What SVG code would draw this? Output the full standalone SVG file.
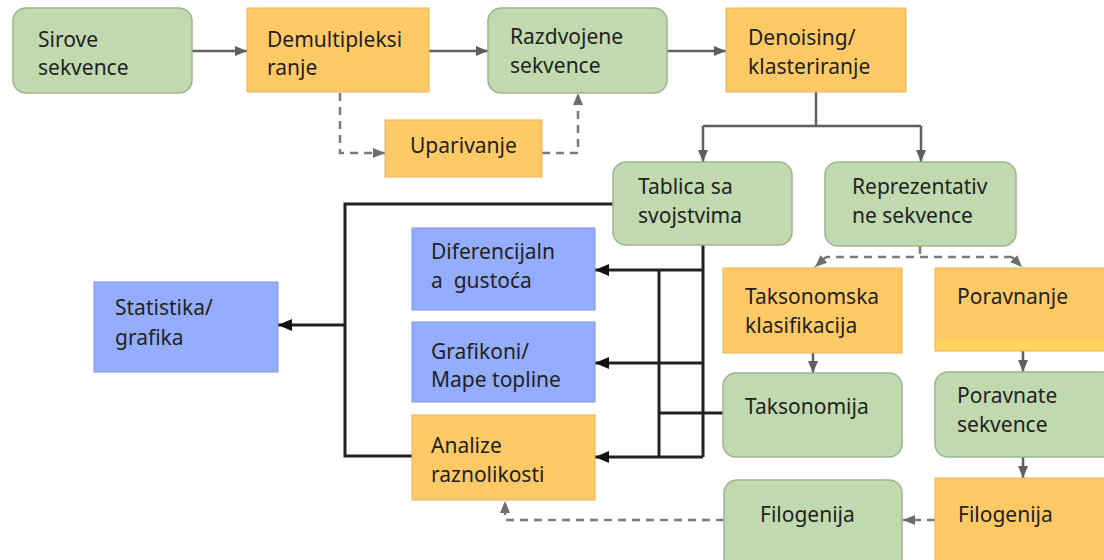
<svg xmlns="http://www.w3.org/2000/svg" width="1104" height="560" viewBox="0 0 1104 560">
<defs>
<style>
.t{font-family:"Noto Sans","Open Sans","Liberation Sans",sans-serif;font-size:21px;fill:#222;white-space:pre}
.g{fill:#c0d9ae;stroke:#9db58c;stroke-width:1.5}
.o{fill:#ffca65;stroke:#e3b45a;stroke-width:1}
.b{fill:#95adff;stroke:#7f96e0;stroke-width:1}
.cg{fill:none;stroke:#5f5f5f;stroke-width:2.5}
.cd{fill:none;stroke:#7a7a7a;stroke-width:2.5;stroke-dasharray:8 6}
.ck{fill:none;stroke:#222;stroke-width:3}
</style>
<marker id="ag" viewBox="0 0 12 10" refX="12" refY="5" markerWidth="12" markerHeight="10" markerUnits="userSpaceOnUse" orient="auto"><path d="M0,0 L12,5 L0,10 z" fill="#5f5f5f"/></marker>
<marker id="ad" viewBox="0 0 12 10" refX="12" refY="5" markerWidth="12" markerHeight="10" markerUnits="userSpaceOnUse" orient="auto"><path d="M0,0 L12,5 L0,10 z" fill="#6e6e6e"/></marker>
<marker id="ak" viewBox="0 0 14 12" refX="14" refY="6" markerWidth="14" markerHeight="12" markerUnits="userSpaceOnUse" orient="auto"><path d="M0,0 L14,6 L0,12 z" fill="#111"/></marker>
</defs>
<rect width="1104" height="560" fill="#fff"/>

<g id="connectors">
<line class="cg" x1="192" y1="51" x2="247" y2="51" marker-end="url(#ag)"/>
<line class="cg" x1="429" y1="51" x2="488" y2="51" marker-end="url(#ag)"/>
<line class="cg" x1="667" y1="51" x2="726" y2="51" marker-end="url(#ag)"/>
<path class="cd" d="M340 93 V153 H385" marker-end="url(#ad)"/>
<path class="cd" d="M542 153 H578 V93" marker-end="url(#ad)"/>
<path class="cg" d="M816 92 V126"/>
<path class="cg" d="M703 126 H921"/>
<line class="cg" x1="703" y1="126" x2="703" y2="162" marker-end="url(#ag)"/>
<line class="cg" x1="921" y1="126" x2="921" y2="162" marker-end="url(#ag)"/>
<path class="cd" d="M920 246 V257"/>
<path class="cd" d="M1012 257 H826"/>
<path class="cd" d="M826 257 L815 267" marker-end="url(#ad)"/>
<path class="cd" d="M1012 257 L1022 267" marker-end="url(#ad)"/>
<line class="cg" x1="813" y1="353" x2="813" y2="373" marker-end="url(#ag)"/>
<line class="cg" x1="1023" y1="351" x2="1023" y2="372" marker-end="url(#ag)"/>
<line class="cg" x1="1023" y1="457" x2="1023" y2="478" marker-end="url(#ag)"/>
<line class="cd" x1="935" y1="520" x2="903" y2="520" marker-end="url(#ad)"/>
<path class="cd" d="M724 520 H505 V501" marker-end="url(#ad)"/>
<path class="ck" d="M613 204 H345 V456 H412"/>
<line class="ck" x1="345" y1="325" x2="278" y2="325" marker-end="url(#ak)"/>
<path class="ck" d="M703 245 V457"/>
<path class="ck" d="M659 270 V457"/>
<path class="ck" d="M723 413 H659"/>
<line class="ck" x1="703" y1="270" x2="595" y2="270" marker-end="url(#ak)"/>
<line class="ck" x1="703" y1="363" x2="595" y2="363" marker-end="url(#ak)"/>
<line class="ck" x1="703" y1="457" x2="595" y2="457" marker-end="url(#ak)"/>
</g>

<g id="sirove"><rect class="g" x="13" y="8" width="179" height="85" rx="13"/><text class="t" x="38" y="47">Sirove</text><text class="t" x="38" y="75">sekvence</text></g>
<g id="demultipleksiranje"><rect class="o" x="247" y="8" width="182" height="84"/><text class="t" x="267" y="47">Demultipleksi</text><text class="t" x="267" y="75">ranje</text></g>
<g id="razdvojene"><rect class="g" x="488" y="8" width="179" height="85" rx="13"/><text class="t" x="510" y="44">Razdvojene</text><text class="t" x="510" y="73">sekvence</text></g>
<g id="denoising"><rect class="o" x="726" y="8" width="180" height="84"/><text class="t" x="748" y="45">Denoising/</text><text class="t" x="748" y="74">klasteriranje</text></g>
<g id="uparivanje"><rect class="o" x="385" y="120" width="157" height="57" stroke="none"/><text class="t" x="410" y="153">Uparivanje</text></g>
<g id="tablica"><rect class="g" x="613" y="162" width="179" height="83" rx="13"/><text class="t" x="638" y="194">Tablica sa</text><text class="t" x="638" y="223">svojstvima</text></g>
<g id="reprezentativne"><rect class="g" x="825" y="162" width="191" height="84" rx="13"/><text class="t" x="852" y="194">Reprezentativ</text><text class="t" x="852" y="223">ne sekvence</text></g>
<g id="diferencijalna"><rect class="b" x="412" y="228" width="183" height="82"/><text class="t" x="431" y="259">Diferencijaln</text><text class="t" x="431" y="288">a  gustoća</text></g>
<g id="grafikoni"><rect class="b" x="412" y="322" width="183" height="80"/><text class="t" x="431" y="359">Grafikoni/</text><text class="t" x="431" y="387">Mape topline</text></g>
<g id="analize"><rect class="o" x="412" y="415" width="183" height="85"/><text class="t" x="431" y="453">Analize</text><text class="t" x="431" y="482">raznolikosti</text></g>
<g id="statistika"><rect class="b" x="94" y="282" width="184" height="90" stroke="none"/><text class="t" x="115" y="315">Statistika/</text><text class="t" x="115" y="345">grafika</text></g>
<g id="taksonomska"><rect class="o" x="723" y="268" width="179" height="85"/><text class="t" x="745" y="304">Taksonomska</text><text class="t" x="745" y="333">klasifikacija</text></g>
<g id="poravnanje"><rect class="o" x="935" y="268" width="175" height="83"/><rect x="936" y="340" width="170" height="10" fill="#ffd45e"/><text class="t" x="957" y="304">Poravnanje</text></g>
<g id="taksonomija"><rect class="g" x="723" y="373" width="179" height="84" rx="13"/><text class="t" x="745" y="414">Taksonomija</text></g>
<g id="poravnate"><rect class="g" x="935" y="372" width="180" height="85" rx="13"/><text class="t" x="957" y="403">Poravnate</text><text class="t" x="957" y="432">sekvence</text></g>
<g id="filogenija-o"><rect class="o" x="935" y="478" width="175" height="90"/><text class="t" x="958" y="522">Filogenija</text></g>
<g id="filogenija-g"><rect class="g" x="724" y="480" width="178" height="90" rx="13"/><text class="t" x="760" y="522">Filogenija</text></g>
</svg>
